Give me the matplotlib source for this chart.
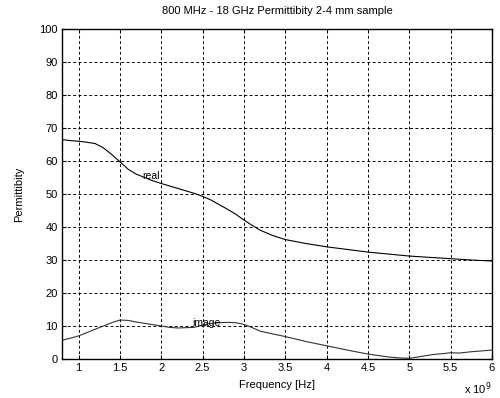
import matplotlib
matplotlib.use("Agg")
import matplotlib.pyplot as plt

plt.rcParams['font.family'] = ['Liberation Sans', 'DejaVu Sans']

freq_real = [0.8, 0.9, 1.0, 1.1, 1.2, 1.3, 1.4, 1.5, 1.6, 1.7, 1.8, 1.9, 2.0, 2.2, 2.4, 2.5,
             2.6, 2.7, 2.8, 2.9, 3.0, 3.1, 3.2, 3.35, 3.5, 3.75, 4.0, 4.25, 4.5, 4.75, 5.0,
             5.25, 5.5, 5.75, 6.0]
eps_real = [66.5, 66.2, 66.0, 65.7, 65.3, 64.0, 62.0, 59.8, 57.5, 56.0, 55.0, 54.0, 53.2, 51.7,
            50.2, 49.3, 48.2, 46.8, 45.4, 43.9, 42.1, 40.5, 39.0, 37.4, 36.2, 35.0, 34.0, 33.2,
            32.4, 31.8, 31.2, 30.8, 30.4, 30.0, 29.7]

freq_imag = [0.8, 0.9, 1.0, 1.1, 1.2, 1.3, 1.4, 1.5, 1.6, 1.7, 1.8, 1.9, 2.0, 2.1, 2.2, 2.3,
             2.4, 2.5, 2.6, 2.7, 2.8, 2.9, 3.0, 3.1, 3.2, 3.35, 3.5, 3.75, 4.0, 4.25, 4.5,
             4.75, 4.9, 5.0, 5.1, 5.2, 5.3, 5.4, 5.5, 5.6, 5.75, 5.9, 6.0]
eps_imag = [5.7, 6.3, 7.0, 8.0, 9.0, 10.0, 11.0, 11.8, 11.7, 11.2, 10.8, 10.4, 10.0, 9.6, 9.4,
            9.5, 9.6, 10.3, 10.8, 11.0, 11.1, 11.0, 10.5, 9.5, 8.4, 7.6, 6.8, 5.3, 4.0, 2.7,
            1.5, 0.6, 0.3, 0.2, 0.6, 1.0, 1.4, 1.6, 1.9, 1.8, 2.2, 2.5, 2.7]

xticks = [1, 1.5, 2, 2.5, 3, 3.5, 4, 4.5, 5, 5.5, 6]
xticklabels = ['1', '1.5', '2', '2.5', '3', '3.5', '4', '4.5', '5', '5.5', '6']
yticks = [0, 10, 20, 30, 40, 50, 60, 70, 80, 90, 100]

fig = plt.figure(figsize=(5.0, 3.98), dpi=100)
ax = fig.add_axes([0.124, 0.098, 0.86, 0.829])

ax.plot(freq_real, eps_real, color='black', lw=0.8)
ax.plot(freq_imag, eps_imag, color='#333333', lw=0.8)

ax.text(1.77, 55.5, 'real', fontsize=7.5, va='center', ha='left')
ax.text(2.38, 11.0, 'image', fontsize=7.5, va='center', ha='left')

ax.set_xlim(0.8, 6.0)
ax.set_ylim(0, 100)
ax.set_xticks(xticks)
ax.set_xticklabels(xticklabels)
ax.set_yticks(yticks)
ax.tick_params(direction='in', length=3, labelsize=8, top=True, right=True, pad=3)
ax.grid(True, color='black', linestyle=(0, (3, 2.5)), linewidth=0.7)
for s in ax.spines.values():
    s.set_linewidth(1.0)

ax.set_title('800 MHz - 18 GHz Permittibity 2-4 mm sample', fontsize=8, pad=11)
ax.set_xlabel('Frequency [Hz]', fontsize=8, labelpad=5)
ax.set_ylabel('Permittibity', fontsize=8, labelpad=11)
fig.text(0.955, 0.012, r'x 10$^9$', fontsize=8, ha='center')

fig.savefig('out.png', dpi=100)
